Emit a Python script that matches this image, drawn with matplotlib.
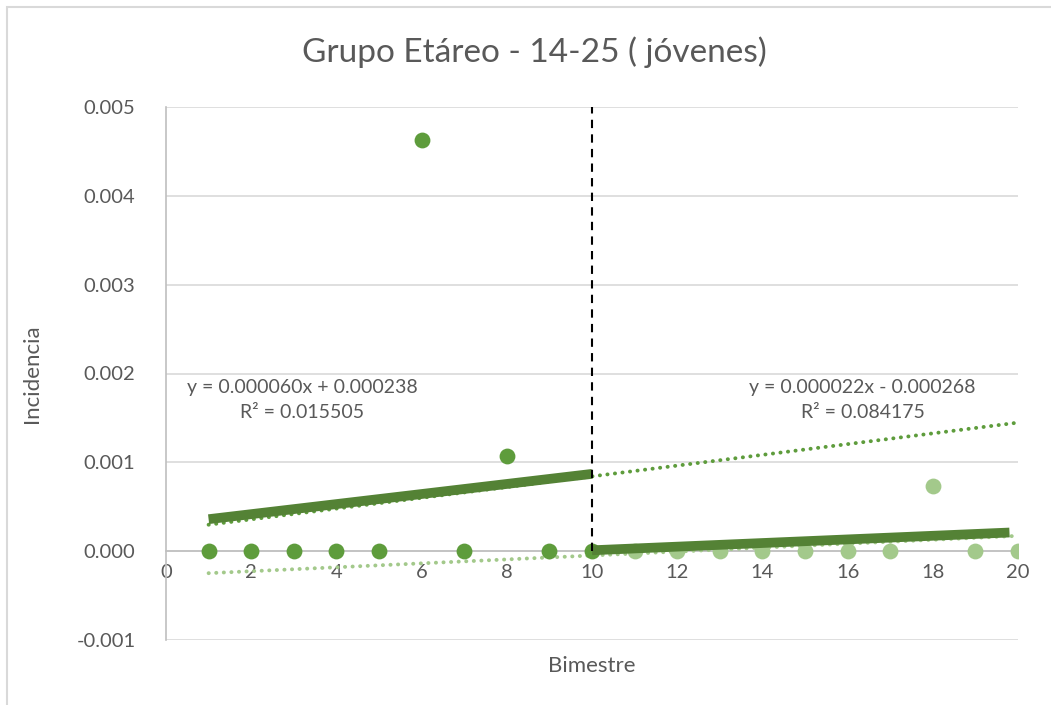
import matplotlib.pyplot as plt
from matplotlib.patches import Rectangle

plt.rcParams['font.family'] = ['Lato', 'DejaVu Sans']

# bimestres e incidencia, jóvenes 14-25
x_antes = [1, 2, 3, 4, 5, 6, 7, 8, 9, 10]
y_antes = [0, 0, 0, 0, 0, 0.00463, 0, 0.00107, 0, 0]
x_despues = [11, 12, 13, 14, 15, 16, 17, 18, 19, 20]
y_despues = [0, 0, 0, 0, 0, 0, 0, 0.00073, 0, 0]

# tramos del ajuste segmentado
seg1_x = [1, 10]
seg1_y = [0.00036, 0.00087]
seg2_x = [10, 19.8]
seg2_y = [0.00001, 0.00021]

corte = 10
xticks = list(range(0, 21, 2))
yticks = [-0.001, 0.0, 0.001, 0.002, 0.003, 0.004, 0.005]

gris = '#595959'
verde = '#5E9C3C'
verde_claro = '#A3C98B'
verde_osc = '#548235'

fig = plt.figure(figsize=(10.51, 7.05), dpi=100)
fig.patches.append(Rectangle((7 / 1051, -0.1), 1.2, 1 - 7 / 705 + 0.1,
                             transform=fig.transFigure, fill=False,
                             edgecolor='#D9D9D9', linewidth=1.5))
ax = fig.add_axes([166 / 1051, 1 - 640 / 705, (1018 - 166) / 1051, (640 - 107) / 705])

ax.set_xlim(0, 20)
ax.set_ylim(-0.001, 0.005)
ax.set_xticks(xticks)
ax.set_yticks(yticks)
ax.set_yticklabels(['-0.001', '0.000', '0.001', '0.002', '0.003', '0.004', '0.005'])
ax.grid(axis='y', color='#D9D9D9', linewidth=1.2)
ax.set_axisbelow(True)

for s in ['top', 'right']:
    ax.spines[s].set_visible(False)
ax.spines['bottom'].set_position(('data', 0))
ax.spines['bottom'].set_color('#BFBFBF')
ax.spines['bottom'].set_linewidth(1.2)
ax.spines['left'].set_color('#BFBFBF')
ax.spines['left'].set_linewidth(1.2)
ax.tick_params(length=0, labelsize=14.5, colors=gris, pad=9)
ax.tick_params(axis='y', pad=22)

# rectas de tendencia lineal (mínimos cuadrados) extendidas hasta x=20
def tendencia(xs, ys):
    n = len(xs)
    mx = sum(xs) / n
    my = sum(ys) / n
    b = sum((a - mx) * (c - my) for a, c in zip(xs, ys)) / sum((a - mx) ** 2 for a in xs)
    return b, my - b * mx

m1, b1 = tendencia(x_antes, y_antes)
m2, b2 = tendencia(x_despues, y_despues)
xt = [1, 20]
punteado = (0, (0.05, 1.9))
ax.plot(xt, [m1 * v + b1 for v in xt], color='#5E9C3C', linestyle=punteado,
        linewidth=2.8, dash_capstyle='round', zorder=3)
ax.plot(xt, [m2 * v + b2 for v in xt], color=verde_claro, linestyle=punteado,
        linewidth=2.8, dash_capstyle='round', zorder=3)

ax.scatter(x_antes, y_antes, s=130, color=verde, zorder=4, linewidths=0)
ax.scatter(x_despues, y_despues, s=130, color=verde_claro, zorder=4, linewidths=0)

ax.plot(seg1_x, seg1_y, color=verde_osc, linewidth=7, solid_capstyle='butt', zorder=5)
ax.plot(seg2_x, seg2_y, color=verde_osc, linewidth=7, solid_capstyle='butt', zorder=5)

ax.plot([corte, corte], [0, 0.005], color='black', linestyle=(0, (4, 3)),
        linewidth=1.5, zorder=6)

ax.text(3.2, 0.0017, 'y = 0.000060x + 0.000238\nR² = 0.015505', ha='center',
        va='center', fontsize=14, color=gris, linespacing=1.6)
ax.text(16.35, 0.0017, 'y = 0.000022x - 0.000268\nR² = 0.084175', ha='center',
        va='center', fontsize=14, color=gris, linespacing=1.6)

fig.text(534 / 1051, 1 - 52 / 705, 'Grupo Etáreo - 14-25 ( jóvenes)', ha='center',
         va='center', fontsize=24, color=gris)
ax.set_xlabel('Bimestre', fontsize=16, color=gris)
ax.xaxis.set_label_coords(0.5, -0.03)
ax.set_ylabel('Incidencia', fontsize=16, color=gris)
ax.yaxis.set_label_coords(-0.145, 0.5)

fig.savefig('out.png', dpi=100)
